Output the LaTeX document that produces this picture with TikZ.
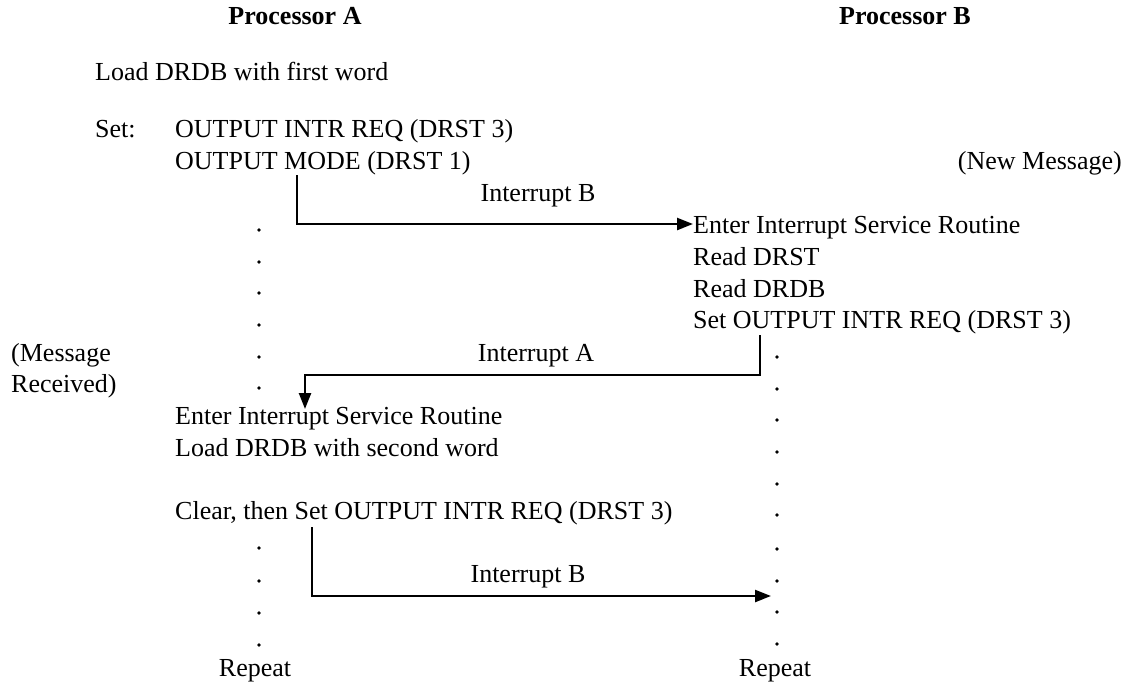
\documentclass[tikz,border=0pt]{standalone}
\usepackage{fontspec}
\setmainfont{Liberation Serif}
\usetikzlibrary{arrows.meta}
\tikzset{
  txt/.style={inner sep=0pt, anchor=base west, font=\fontsize{26}{30}\selectfont},
  head/.style={inner sep=0pt, anchor=base, font=\fontsize{26}{30}\selectfont\bfseries},
  ctr/.style={inner sep=0pt, anchor=base, font=\fontsize{26}{30}\selectfont},
  wire/.style={line width=2.4pt, -{Triangle[length=16pt,width=12pt]}},
  dot/.style={circle, fill=black, inner sep=0pt, minimum size=3.6pt}
}
\begin{document}
\begin{tikzpicture}[x=1pt,y=-1pt]
\useasboundingbox (0,0) rectangle (1129,683);

% column headings
\node[head] (hA) at (295,24) {Processor A};
\node[head] (hB) at (905,24) {Processor B};

% processor A, first word
\node[txt] (loadA) at (95,80) {Load DRDB with first word};
\node[txt] (setA) at (95,137) {Set:};
\node[txt] (intrA) at (175,137) {OUTPUT INTR REQ (DRST 3)};
\node[txt] (modeA) at (175,169) {OUTPUT MODE (DRST 1)};
\node[txt, anchor=base east] (newmsg) at (1122,169) {(New Message)};

% processor B service routine
\node[txt] (isrB) at (693,233) {Enter Interrupt Service Routine};
\node[txt] (rdst) at (693,265) {Read DRST};
\node[txt] (rdrdb) at (693,297) {Read DRDB};
\node[txt] (setB) at (693,328) {Set OUTPUT INTR REQ (DRST 3)};

% acknowledgement
\node[txt] (msg) at (11,361) {(Message};
\node[txt] (rcv) at (11,392) {Received)};

% processor A service routine
\node[txt] (isrA) at (175,424) {Enter Interrupt Service Routine};
\node[txt] (load2) at (175,456) {Load DRDB with second word};
\node[txt] (clr) at (175,519) {Clear, then Set OUTPUT INTR REQ (DRST 3)};

% loop ends
\node[ctr] (repA) at (255,676) {Repeat};
\node[ctr] (repB) at (775,676) {Repeat};

% interrupt labels
\node[ctr] (lbB1) at (538,201) {Interrupt B};
\node[ctr] (lbA) at (536,361) {Interrupt A};
\node[ctr] (lbB2) at (528,582) {Interrupt B};

% waiting dots, processor A
\foreach \y [count=\i] in {230,262,293,325,357,388}
  \node[dot] (wa\i) at (259,\y) {};
\foreach \y [count=\i] in {548,581,613,645}
  \node[dot] (wc\i) at (259,\y) {};
% waiting dots, processor B
\foreach \y [count=\i] in {357,389,420,452,484,515,549,581,612,644}
  \node[dot] (wb\i) at (777,\y) {};

% interrupt B (first word)
\coordinate (s1) at (297,175);
\coordinate (c1) at (297,224);
\draw[wire] (s1) -- (c1) -- (isrB.west |- c1);

% interrupt A
\coordinate (s2) at (760,335);
\coordinate (c2a) at (760,375);
\coordinate (c2b) at (305,375);
\coordinate (e2) at (305,409);
\draw[wire] (s2) -- (c2a) -- (c2b) -- (e2);

% interrupt B (second word)
\coordinate (s3) at (312,527);
\coordinate (c3) at (312,596);
\coordinate (e3) at (771,596);
\draw[wire] (s3) -- (c3) -- (e3);
\end{tikzpicture}
\end{document}
